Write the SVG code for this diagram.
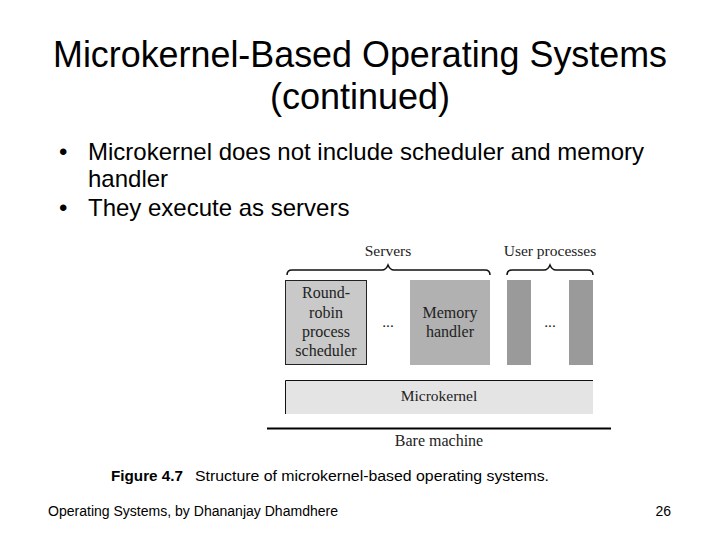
<svg xmlns="http://www.w3.org/2000/svg" width="720" height="540" viewBox="0 0 720 540">
<style>
.sans{font-family:"Liberation Sans",Arial,sans-serif;fill:#000}
.title{font-size:36px;text-anchor:middle}
.bul{font-size:24px}
.fig{font-family:"Liberation Serif","Times New Roman",serif;font-size:15.5px;fill:#222;text-anchor:middle}
.big{font-size:16px}
.brace{fill:none;stroke:#111;stroke-width:1.5}
</style>
<rect width="720" height="540" fill="#fff"/>
<text class="sans title" x="360" y="67" textLength="614" lengthAdjust="spacingAndGlyphs">Microkernel-Based Operating Systems</text>
<text class="sans title" x="360" y="109">(continued)</text>
<text class="sans bul" x="59" y="160" font-size="20">•</text>
<text class="sans bul" x="88" y="160" textLength="556" lengthAdjust="spacingAndGlyphs">Microkernel does not include scheduler and memory</text>
<text class="sans bul" x="88" y="187">handler</text>
<text class="sans bul" x="59" y="216" font-size="20">•</text>
<text class="sans bul" x="88" y="216">They execute as servers</text>

<g id="labels">
<text class="fig" x="388" y="256">Servers</text>
<text class="fig" x="550" y="256">User processes</text>
</g>
<g id="connectors">
<path class="brace" d="M287,275 Q287,270 292,270 L382,270 Q386,270 388,265 Q390,270 394,270 L485,270 Q490,270 490,275"/>
<path class="brace" d="M507,275 Q507,270 512,270 L544,270 Q548,270 550,265 Q552,270 556,270 L588,270 Q593,270 593,275"/>
</g>
<g id="scheduler">
<rect x="285.5" y="280.5" width="81" height="84" fill="#c9c9c9" stroke="#222" stroke-width="1"/>
<text class="fig big" x="326" y="298">Round-</text>
<text class="fig big" x="326" y="318">robin</text>
<text class="fig big" x="326" y="337">process</text>
<text class="fig big" x="326" y="356">scheduler</text>
</g>
<text class="fig" x="388" y="327">...</text>
<g id="memory">
<rect x="410" y="280" width="80" height="85" fill="#b1b1b1"/>
<text class="fig big" x="450" y="318">Memory</text>
<text class="fig big" x="450" y="337">handler</text>
</g>
<g id="user1"><rect x="507" y="280" width="24" height="85" fill="#9a9a9a"/></g>
<text class="fig" x="550" y="327">...</text>
<g id="user2"><rect x="569" y="280" width="24" height="85" fill="#9a9a9a"/></g>
<g id="microkernel">
<rect x="285" y="380" width="308" height="34" fill="#e4e4e4"/>
<path d="M285.5,414 L285.5,380.5 L593,380.5" fill="none" stroke="#111" stroke-width="1"/>
<text class="fig" x="439" y="401">Microkernel</text>
</g>
<g id="bare">
<line x1="267" y1="428.5" x2="611" y2="428.5" stroke="#000" stroke-width="2"/>
<text class="fig big" x="439" y="446">Bare machine</text>
</g>
<text class="sans" x="111" y="481" font-size="15" font-weight="bold" textLength="72" lengthAdjust="spacingAndGlyphs">Figure 4.7</text>
<text class="sans" x="195" y="481" font-size="15.5" fill="#222" textLength="354" lengthAdjust="spacingAndGlyphs">Structure of microkernel-based operating systems.</text>
<text class="sans" x="48" y="516" font-size="14" textLength="290" lengthAdjust="spacingAndGlyphs">Operating Systems, by Dhananjay Dhamdhere</text>
<text class="sans" x="671" y="516" font-size="14" text-anchor="end">26</text>
</svg>
